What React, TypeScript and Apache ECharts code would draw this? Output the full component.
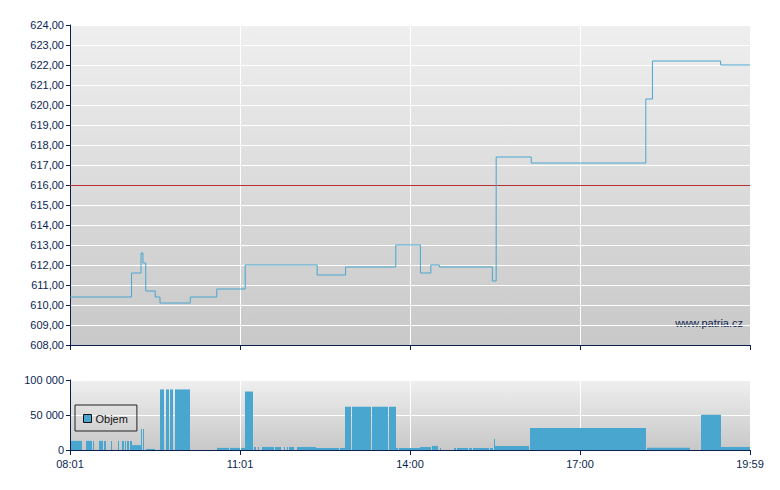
import React, { useEffect, useRef } from "react";
import * as echarts from "echarts";

// ---- data ----
const xTickLabels = ["08:01", "11:01", "14:00", "17:00", "19:59"];

const priceTimes = [
  "08:01", "09:06", "09:16", "09:18", "09:21", "09:31", "09:36", "10:08",
  "10:36", "11:06", "12:22", "12:52", "13:45", "14:11", "14:22", "14:31",
  "15:27", "15:31", "16:08", "18:09", "18:16", "19:28", "19:59",
];
const priceValues = [
  610.4, 611.6, 612.6, 612.1, 610.7, 610.4, 610.1, 610.4,
  610.8, 612.0, 611.5, 611.9, 613.0, 611.6, 612.0, 611.9,
  611.2, 617.4, 617.1, 620.3, 622.2, 622.0, 622.0,
];
const referencePrice = 616;

const volStart = [
  "08:02", "08:18", "08:25", "08:32", "08:37", "08:44", "08:52", "08:56",
  "08:59", "09:01", "09:04", "09:06", "09:16", "09:18", "09:21", "09:36",
  "09:42", "09:47", "09:52", "10:36", "10:42", "10:50", "11:02", "11:06",
  "11:15", "11:19", "11:24", "11:37", "11:47", "11:50", "11:52", "12:01",
  "12:21", "12:46", "12:51", "12:59", "13:13", "13:20", "13:38", "13:45",
  "13:48", "14:11", "14:23", "14:32", "14:46", "14:48", "14:50", "15:02",
  "15:06", "15:24", "15:29", "15:30", "16:07", "18:10", "19:07", "19:28",
];
const volEnd = [
  "08:14", "08:24", "08:26", "08:36", "08:39", "08:45", "08:53", "08:58",
  "09:00", "09:03", "09:06", "09:16", "09:17", "09:19", "09:31", "09:40",
  "09:46", "09:50", "10:08", "10:41", "10:49", "11:00", "11:06", "11:14",
  "11:17", "11:21", "11:36", "11:44", "11:48", "11:51", "11:57", "12:21",
  "12:45", "12:51", "12:58", "13:12", "13:19", "13:37", "13:45", "13:47",
  "14:11", "14:22", "14:30", "14:33", "14:47", "14:49", "15:01", "15:05",
  "15:23", "15:28", "15:30", "16:06", "18:09", "18:56", "19:28", "19:59",
];
const volValues = [
  13000, 13000, 13000, 13000, 13000, 13000, 13000, 13000,
  13000, 13000, 13000, 7000, 30000, 30000, 1500, 86500,
  86500, 86500, 86500, 3000, 3000, 3000, 3000, 83500,
  4300, 4300, 4300, 4300, 4300, 4300, 4300, 4300,
  2900, 2900, 61800, 61800, 61800, 61800, 61800, 2900,
  2900, 4300, 5800, 2900, 2900, 2900, 2900, 2900,
  2900, 2900, 15800, 5800, 31600, 3300, 50300, 4300,
];

// ---- helpers ----
const toMin = (s: string) => {
  const [h, m] = s.split(":").map(Number);
  return h * 60 + m;
};
const X_MIN = toMin(xTickLabels[0]);
const X_MAX = toMin(xTickLabels[xTickLabels.length - 1]);
const X_STEP = (X_MAX - X_MIN) / (xTickLabels.length - 1);

const NAVY = "#0b1f4f";
const BLUE = "#48a6cf";
const FONT = 'Arial, "Liberation Sans", sans-serif';

const bgGradient = () =>
  new echarts.graphic.LinearGradient(0, 0, 0, 1, [
    { offset: 0, color: "#efefef" },
    { offset: 1, color: "#c8c8c8" },
  ]);

export default function App() {
  const ref = useRef<HTMLDivElement>(null);

  useEffect(() => {
    if (!ref.current) return;
    const chart = echarts.init(ref.current, null, { renderer: "svg" });

    const priceData = priceTimes.map((t, i) => [toMin(t), priceValues[i]]);
    const volData = volStart.map((s, i) => [toMin(s), toMin(volEnd[i]), volValues[i]]);

    const xLabelFmt = (v: number) => {
      const idx = Math.round((v - X_MIN) / X_STEP);
      return xTickLabels[idx] ?? "";
    };

    const baseX = {
      type: "value",
      min: X_MIN,
      max: X_MAX,
      interval: X_STEP,
      axisLine: { show: true, lineStyle: { color: NAVY, width: 1 } },
      axisTick: { show: true, length: 5, lineStyle: { color: NAVY } },
      splitLine: { show: true, lineStyle: { color: "#ffffff", width: 1 } },
    };

    const option: any = {
      animation: false,
      backgroundColor: "#ffffff",
      textStyle: { fontFamily: FONT },
      grid: [
        {
          left: 70, top: 25, width: 680, height: 320,
          show: true, backgroundColor: bgGradient(), borderWidth: 0,
        },
        {
          left: 70, top: 380, width: 680, height: 70,
          show: true, backgroundColor: bgGradient(), borderWidth: 0,
        },
      ],
      xAxis: [
        {
          ...baseX,
          gridIndex: 0,
          axisLabel: { show: false },
        },
        {
          ...baseX,
          gridIndex: 1,
          axisLabel: {
            show: true, color: NAVY, fontSize: 11, fontFamily: FONT, margin: 8,
            formatter: xLabelFmt,
          },
        },
      ],
      yAxis: [
        {
          type: "value",
          gridIndex: 0,
          min: 608,
          max: 624,
          interval: 1,
          axisLine: { show: true, lineStyle: { color: NAVY, width: 1 } },
          axisTick: { show: true, length: 4, lineStyle: { color: NAVY } },
          splitLine: { show: true, lineStyle: { color: "#ffffff", width: 1 } },
          axisLabel: {
            color: NAVY, fontSize: 11, fontFamily: FONT, margin: 6,
            formatter: (v: number) => v.toFixed(2).replace(".", ","),
          },
        },
        {
          type: "value",
          gridIndex: 1,
          min: 0,
          max: 100000,
          interval: 50000,
          axisLine: { show: true, lineStyle: { color: NAVY, width: 1 } },
          axisTick: { show: true, length: 4, lineStyle: { color: NAVY } },
          splitLine: { show: true, lineStyle: { color: "#ffffff", width: 1 } },
          axisLabel: {
            color: NAVY, fontSize: 11, fontFamily: FONT, margin: 6,
            formatter: (v: number) =>
              String(Math.round(v)).replace(/\B(?=(\d{3})+(?!\d))/g, " "),
          },
        },
      ],
      legend: {
        data: ["Objem"],
        left: 75,
        top: 405,
        orient: "horizontal",
        icon: "rect",
        itemWidth: 8,
        itemHeight: 8,
        itemGap: 4,
        padding: [8, 9, 7, 8],
        borderColor: "#222222",
        borderWidth: 1,
        backgroundColor: "rgba(0,0,0,0)",
        selectedMode: false,
        itemStyle: { borderColor: "#111111", borderWidth: 1 },
        textStyle: { color: "#111111", fontSize: 11, fontFamily: FONT, padding: [0, 0, 0, -1] },
      },
      graphic: [
        {
          type: "text",
          x: 743,
          y: 323,
          style: {
            text: "www.patria.cz",
            fill: NAVY,
            font: `11px ${FONT}`,
            textAlign: "right",
            textVerticalAlign: "middle",
          },
          silent: true,
        },
      ],
      series: [
        {
          name: "Cena",
          type: "line",
          xAxisIndex: 0,
          yAxisIndex: 0,
          step: "end",
          data: priceData,
          showSymbol: false,
          symbol: "none",
          lineStyle: { color: BLUE, width: 1 },
          itemStyle: { color: BLUE },
          z: 3,
          markLine: {
            silent: true,
            symbol: ["none", "none"],
            label: { show: false },
            lineStyle: { color: "#b83232", width: 1, type: "solid" },
            data: [{ yAxis: referencePrice }],
            z: 2,
          },
        },
        {
          name: "Objem",
          type: "custom",
          xAxisIndex: 1,
          yAxisIndex: 1,
          data: volData,
          encode: { x: [0, 1], y: 2 },
          itemStyle: { color: BLUE },
          renderItem: (params: any, api: any) => {
            const p0 = api.coord([api.value(0), api.value(2)]);
            const p1 = api.coord([api.value(1), 0]);
            const x0 = Math.round(p0[0]);
            const x1 = Math.max(x0 + 1, Math.round(p1[0]));
            return {
              type: "rect",
              shape: { x: x0, y: p0[1], width: x1 - x0, height: p1[1] - p0[1] },
              style: { fill: BLUE },
            };
          },
        },
      ],
    };

    chart.setOption(option);
    return () => chart.dispose();
  }, []);

  return (
    <div
      ref={ref}
      style={{ position: "fixed", left: 0, top: 0, width: 780, height: 490 }}
    />
  );
}
